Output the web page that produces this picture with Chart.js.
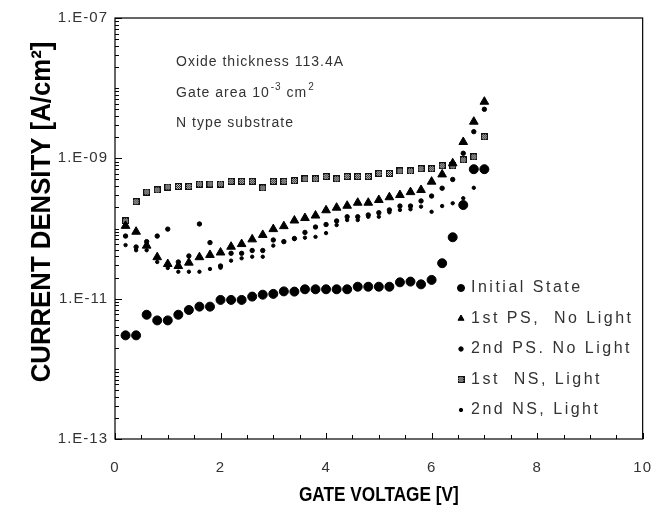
<!DOCTYPE html>
<html>
<head>
<meta charset="utf-8">
<script src="https://cdn.jsdelivr.net/npm/chart.js@4/dist/chart.umd.min.js"></script>
<style>
  body { margin: 0; background: #fff; }
  #wrap { width: 671px; height: 519px; }
</style>
</head>
<body>
<div id="wrap"><canvas id="grafico" width="671" height="519"></canvas></div>
<script>
// gate voltage [V] of every measurement
const gateVoltage = [0.2, 0.4, 0.6, 0.8, 1.0, 1.2, 1.4, 1.6, 1.8, 2.0, 2.2, 2.4, 2.6, 2.8, 3.0, 3.2, 3.4,
    3.6, 3.8, 4.0, 4.2, 4.4, 4.6, 4.8, 5.0, 5.2, 5.4, 5.6, 5.8, 6.0, 6.2, 6.4, 6.6, 6.8, 7.0];

// current density [A/cm2]
const initialState = [3.0e-12, 3.0e-12, 5.9e-12, 4.9e-12, 4.9e-12, 5.9e-12, 6.9e-12, 7.7e-12, 7.7e-12, 9.6e-12,
    9.6e-12, 9.6e-12, 1.07e-11, 1.14e-11, 1.17e-11, 1.27e-11, 1.26e-11, 1.36e-11, 1.36e-11, 1.36e-11, 1.36e-11,
    1.36e-11, 1.48e-11, 1.48e-11, 1.48e-11, 1.48e-11, 1.71e-11, 1.75e-11, 1.60e-11, 1.85e-11, 3.2e-11, 7.5e-11,
    2.16e-10, 7.0e-10, 7.0e-10];
const firstPS = [1.09e-10, 9.0e-11, 5.7e-11, 3.9e-11, 3.12e-11, 2.92e-11, 3.26e-11, 3.9e-11, 4.2e-11, 4.55e-11,
    5.5e-11, 6.0e-11, 7.0e-11, 8.1e-11, 9.8e-11, 1.08e-10, 1.30e-10, 1.41e-10, 1.53e-10, 1.82e-10, 1.98e-10,
    2.11e-10, 2.33e-10, 2.33e-10, 2.55e-10, 2.79e-10, 3.0e-10, 3.3e-10, 3.54e-10, 4.65e-10, 5.9e-10, 8.5e-10,
    1.71e-9, 3.33e-9, 6.41e-9];
const secondPS = [7.8e-11, 5.45e-11, 6.5e-11, 7.8e-11, 9.8e-11, 3.33e-11, 4.06e-11, 1.16e-10, 6.3e-11, 2.92e-11,
    4.43e-11, 4.43e-11, 4.86e-11, 4.86e-11, 6.86e-11, 6.5e-11, 7.2e-11, 8.8e-11, 1.05e-10, 1.14e-10, 1.28e-10,
    1.47e-10, 1.47e-10, 1.56e-10, 1.68e-10, 1.84e-10, 2.09e-10, 2.09e-10, 2.47e-10, 2.9e-10, 3.75e-10, 5.0e-10,
    1.18e-9, 2.4e-9, 5.0e-9];
const firstNS = [1.28e-10, 2.41e-10, 3.31e-10, 3.54e-10, 3.9e-10, 3.97e-10, 3.97e-10, 4.3e-10, 4.3e-10, 4.3e-10,
    4.7e-10, 4.7e-10, 4.7e-10, 3.78e-10, 4.7e-10, 4.7e-10, 4.8e-10, 5.1e-10, 5.1e-10, 5.5e-10, 5.1e-10,
    5.5e-10, 5.5e-10, 5.5e-10, 6.1e-10, 6.1e-10, 6.6e-10, 6.6e-10, 7.1e-10, 7.1e-10, 7.85e-10, 7.8e-10,
    9.5e-10, 1.05e-9, 2.03e-9];
const secondNS = [5.8e-11, 4.9e-11, 4.9e-11, 3.33e-11, 2.74e-11, 2.42e-11, 2.42e-11, 2.42e-11, 2.65e-11, 2.76e-11,
    3.48e-11, 3.76e-11, 3.96e-11, 3.96e-11, 5.7e-11, 6.5e-11, 7.1e-11, 7.4e-11, 7.6e-11, 8.6e-11, 1.12e-10,
    1.32e-10, 1.32e-10, 1.47e-10, 1.47e-10, 1.7e-10, 1.84e-10, 1.88e-10, 2.05e-10, 1.73e-10, 2.09e-10, 2.29e-10,
    2.7e-10, 3.8e-10, 7.0e-10];

const seriesLabels = ["Initial State", "1st PS,  No Light", "2nd PS. No Light", "1st  NS, Light", "2nd NS, Light"];
const yTickValues = [1e-13, 1e-11, 1e-9, 1e-7];
const yTickLabels = ["1.E-13", "1.E-11", "1.E-09", "1.E-07"];
const xTickLabels = [0, 2, 4, 6, 8, 10];
const notes = ["Oxide thickness 113.4A", "Gate area 10", "N type substrate"];
const xTitle = "GATE VOLTAGE [V]";
const yTitle = "CURRENT DENSITY [A/cm²]";

const FONT = '"Liberation Sans", Arial, sans-serif';

function hacerCuadro() {
    const c = document.createElement("canvas");
    c.width = 7;
    c.height = 7;
    const g = c.getContext("2d");
    g.fillStyle = "#111";
    g.fillRect(0, 0, 7, 7);
    g.fillStyle = "#ddd";
    for (let i = 1; i < 6; i++) {
        for (let j = 1; j < 6; j++) {
            if ((i + j) % 2 === 1) g.fillRect(i, j, 1, 1);
        }
    }
    return c;
}

function puntos(valores) {
    return valores.map((v, i) => ({ x: gateVoltage[i], y: v }));
}

const estilos = [
    { pointStyle: "circle", pointRadius: 4.5 },
    { pointStyle: "triangle", pointRadius: 5 },
    { pointStyle: "circle", pointRadius: 2.2 },
    { pointStyle: hacerCuadro(), pointRadius: 4 },
    { pointStyle: "circle", pointRadius: 1.7 }
];
const series = [initialState, firstPS, secondPS, firstNS, secondNS];

// spaced-out text like the scanned figure
const espaciado = {
    id: "espaciado",
    beforeDraw(chart) {
        chart.ctx.letterSpacing = "1px";
    }
};

// box, inward ticks, titles, notes and legend
const decorado = {
    id: "decorado",
    afterDraw(chart) {
        const ctx = chart.ctx;
        const area = chart.chartArea;
        const xs = chart.scales.x;
        const ys = chart.scales.y;
        ctx.save();
        ctx.strokeStyle = "#000";
        ctx.lineWidth = 1.2;
        ctx.strokeRect(area.left, area.top, area.right - area.left, area.bottom - area.top);

        ctx.lineWidth = 1;
        ctx.beginPath();
        ys.ticks.forEach(t => {
            const y = Math.round(ys.getPixelForValue(t.value)) + 0.5;
            const largo = yTickValues.includes(t.value) ? 7 : 4;
            ctx.moveTo(area.left, y);
            ctx.lineTo(area.left + largo, y);
        });
        xs.ticks.forEach(t => {
            const x = Math.round(xs.getPixelForValue(t.value)) + 0.5;
            const largo = t.value % 2 === 0 ? 6 : 4;
            ctx.moveTo(x, area.bottom);
            ctx.lineTo(x, area.bottom - largo);
        });
        ctx.stroke();

        // axis titles, bold and condensed
        ctx.fillStyle = "#000";
        ctx.textAlign = "center";
        ctx.textBaseline = "middle";
        ctx.letterSpacing = "0px";
        ctx.save();
        ctx.translate(42, 212);
        ctx.rotate(-Math.PI / 2);
        ctx.scale(0.92, 1);
        ctx.font = "bold 28px " + FONT;
        ctx.fillText(yTitle, 0, 0);
        ctx.restore();
        ctx.save();
        ctx.translate((area.left + area.right) / 2, 495);
        ctx.scale(0.82, 1);
        ctx.font = "bold 21px " + FONT;
        ctx.fillText(xTitle, 0, 0);
        ctx.restore();

        // notes
        ctx.letterSpacing = "1px";
        ctx.fillStyle = "#333";
        ctx.textAlign = "left";
        ctx.font = "14px " + FONT;
        const nx = 176;
        ctx.fillText(notes[0], nx, 62);
        ctx.fillText(notes[2], nx, 123);
        ctx.fillText(notes[1], nx, 93);
        let w = ctx.measureText(notes[1]).width;
        ctx.font = "10px " + FONT;
        ctx.fillText("-3", nx + w + 1, 87);
        w += ctx.measureText("-3").width + 1;
        ctx.font = "14px " + FONT;
        ctx.fillText(" cm", nx + w, 93);
        w += ctx.measureText(" cm").width;
        ctx.font = "10px " + FONT;
        ctx.fillText("2", nx + w + 1, 87);

        // legend
        ctx.font = "16px " + FONT;
        ctx.letterSpacing = "2.5px";
        chart.data.datasets.forEach((ds, i) => {
            const y = 288 + 30.5 * i;
            ctx.fillStyle = "#000";
            ctx.strokeStyle = "#000";
            Chart.helpers.drawPoint(ctx, {
                pointStyle: ds.pointStyle,
                radius: Math.min(ds.pointRadius, 3.5),
                rotation: 0,
                borderWidth: 1
            }, 461, y);
            ctx.fillStyle = "#333";
            ctx.fillText(ds.label, 471, y);
        });
        ctx.restore();
    }
};

const ctx = document.getElementById("grafico").getContext("2d");
new Chart(ctx, {
    type: "scatter",
    data: {
        datasets: series.map((valores, i) => ({
            label: seriesLabels[i],
            data: puntos(valores),
            backgroundColor: "#000",
            borderColor: "#000",
            borderWidth: 1,
            pointStyle: estilos[i].pointStyle,
            pointRadius: estilos[i].pointRadius,
            showLine: false
        }))
    },
    options: {
        responsive: false,
        animation: false,
        devicePixelRatio: 1,
        layout: { padding: { top: 18, right: 25, left: 0, bottom: 0 } },
        plugins: {
            legend: { display: false },
            tooltip: { enabled: false }
        },
        scales: {
            x: {
                type: "linear",
                min: 0,
                max: 10,
                afterFit: scale => { scale.height = 80; },
                grid: { display: false, drawTicks: false },
                border: { display: false },
                ticks: {
                    stepSize: 0.5,
                    autoSkip: false,
                    maxRotation: 0,
                    padding: 20,
                    color: "#333",
                    font: { family: FONT, size: 15 },
                    callback: v => xTickLabels.includes(v) ? String(v) : ""
                }
            },
            y: {
                type: "logarithmic",
                min: 1e-13,
                max: 1e-7,
                afterFit: scale => { scale.width = 115; },
                afterBuildTicks: scale => {
                    const t = [];
                    for (let e = -13; e < -7; e++) {
                        for (let m = 1; m < 10; m++) t.push({ value: m * Math.pow(10, e) });
                    }
                    t.push({ value: 1e-7 });
                    scale.ticks = t;
                },
                grid: { display: false, drawTicks: false },
                border: { display: false },
                ticks: {
                    autoSkip: false,
                    padding: 7,
                    color: "#333",
                    font: { family: FONT, size: 15 },
                    callback: v => {
                        const k = yTickValues.findIndex(t => Math.abs(t - v) / t < 1e-6);
                        return k >= 0 ? yTickLabels[k] : "";
                    }
                }
            }
        }
    },
    plugins: [espaciado, decorado]
});
</script>
</body>
</html>
